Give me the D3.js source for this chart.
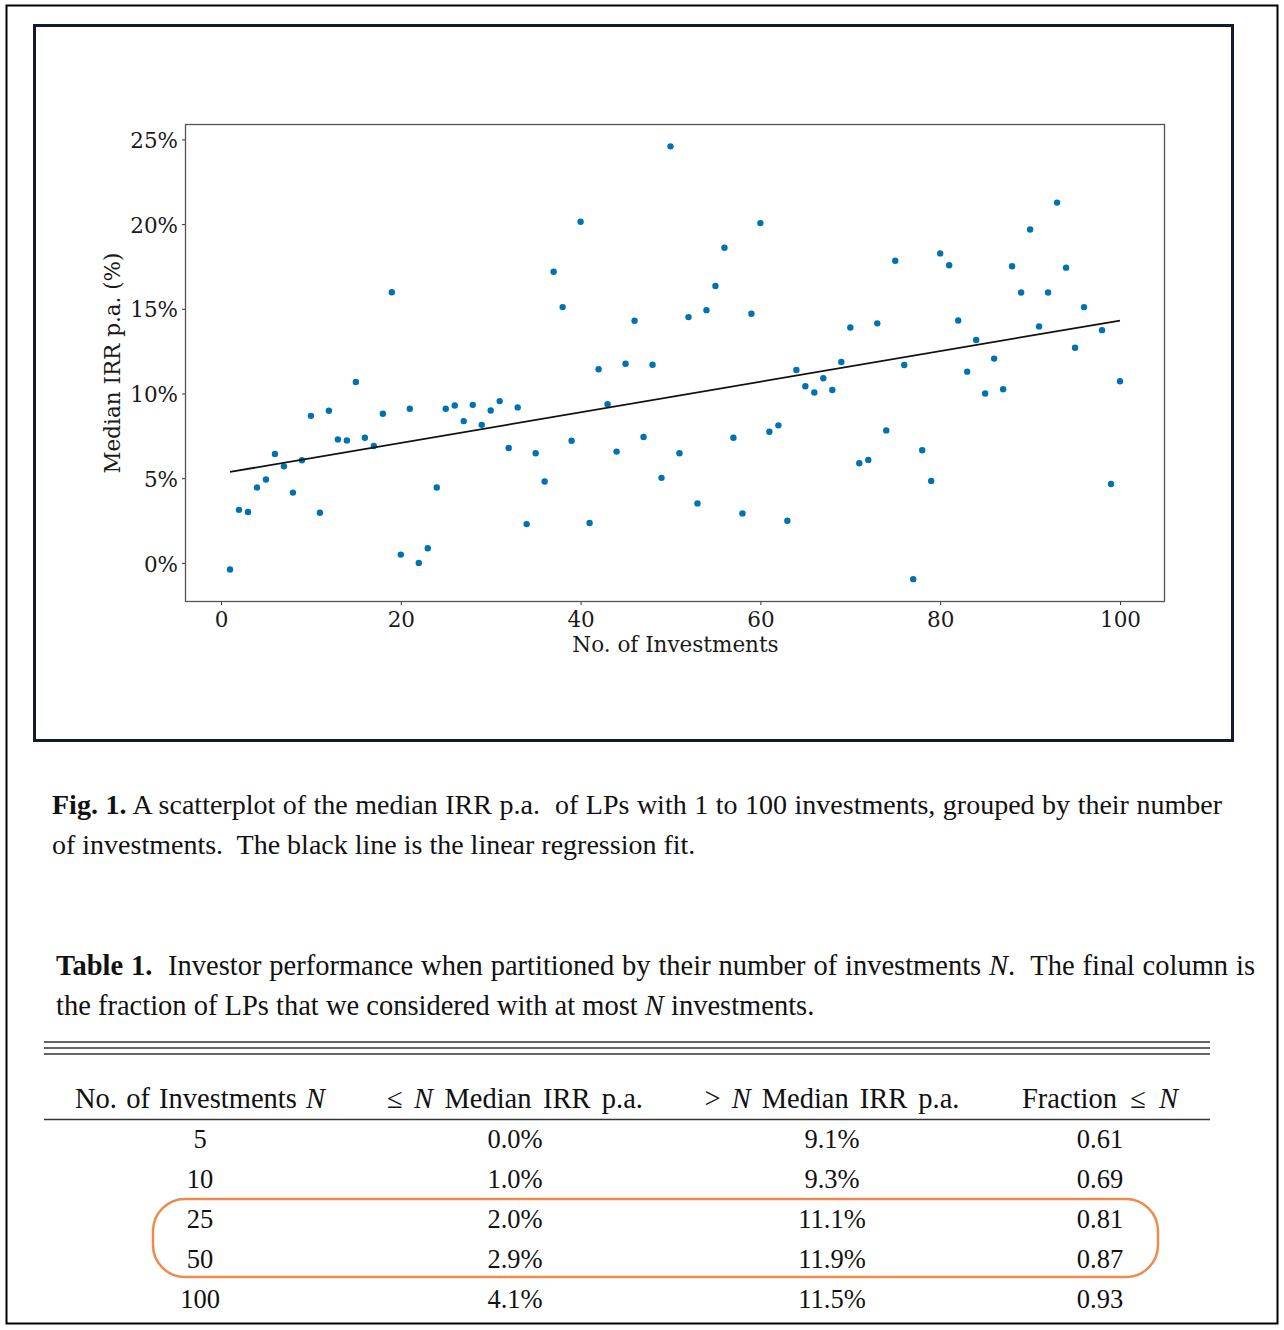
<!DOCTYPE html>
<html>
<head>
<meta charset="utf-8">
<script src="https://cdn.jsdelivr.net/npm/d3@7"></script>
<style>
  html, body { margin: 0; padding: 0; background: #fff; }
  svg text { white-space: pre; }
</style>
</head>
<body>
<svg id="chart" width="1284" height="1330"></svg>
<script>
// ---------------- DATA ----------------
const investments = [
  1,2,3,4,5,6,7,8,9,10,11,12,13,14,15,16,17,18,19,20,
  21,22,23,24,25,26,27,28,29,30,31,32,33,34,35,36,37,38,39,40,
  41,42,43,44,45,46,47,48,49,50,51,52,53,54,55,56,57,58,59,60,
  61,62,63,64,65,66,67,68,69,70,71,72,73,74,75,76,77,78,79,80,
  81,82,83,84,85,86,87,88,89,90,91,92,93,94,95,96,98,99,100
];
const medianIRR = [
  -0.39,3.13,3.00,4.45,4.92,6.43,5.70,4.15,6.06,8.68,
  2.96,8.98,7.29,7.23,10.68,7.39,6.90,8.80,15.98,0.49,
  9.10,0.00,0.86,4.45,9.10,9.29,8.37,9.33,8.15,9.00,
  9.55,6.78,9.18,2.29,6.47,4.80,17.19,15.10,7.21,20.14,
  2.35,11.43,9.37,6.57,11.76,14.29,7.43,11.70,5.02,24.59,
  6.47,14.51,3.51,14.92,16.35,18.61,7.39,2.92,14.71,20.06,
  7.74,8.12,2.49,11.39,10.43,10.06,10.90,10.21,11.86,13.90,
  5.88,6.08,14.14,7.82,17.84,11.68,-0.96,6.65,4.84,18.27,
  17.57,14.31,11.29,13.16,10.00,12.06,10.25,17.51,15.96,19.68,
  13.96,15.96,21.27,17.43,12.70,15.10,13.74,4.66,10.72
];
const xTicks = [0, 20, 40, 60, 80, 100];
const yTicks = [0, 5, 10, 15, 20, 25];

const tableHeader = ["No. of Investments |N|", "≤ |N| Median IRR p.a.", "> |N| Median IRR p.a.", "Fraction ≤ |N|"];
const tableN        = ["5", "10", "25", "50", "100"];
const tableLeIRR    = ["0.0%", "1.0%", "2.0%", "2.9%", "4.1%"];
const tableGtIRR    = ["9.1%", "9.3%", "11.1%", "11.9%", "11.5%"];
const tableFraction = ["0.61", "0.69", "0.81", "0.87", "0.93"];
const highlightRows = [2, 3];

const figCaption = [
  [{b:"Fig. 1."}, {t:" A scatterplot of the median IRR p.a.  of LPs with 1 to 100 investments, grouped by their number"}],
  [{t:"of investments.  The black line is the linear regression fit."}]
];
const tableCaption = [
  [{b:"Table 1."}, {t:"  Investor performance when partitioned by their number of investments "}, {i:"N"}, {t:".  The final column is"}],
  [{t:"the fraction of LPs that we considered with at most "}, {i:"N"}, {t:" investments."}]
];

// ---------------- DRAW ----------------
const svg = d3.select("#chart");

// outer frame and inner figure frame
svg.append("rect").attr("x", 6.5).attr("y", 5.5).attr("width", 1271).attr("height", 1318)
  .attr("fill", "none").attr("stroke", "#000").attr("stroke-width", 2);
svg.append("rect").attr("x", 34.5).attr("y", 25.5).attr("width", 1198).attr("height", 715)
  .attr("fill", "none").attr("stroke", "#141a2e").attr("stroke-width", 3);

const plot = { left: 185.5, top: 124.5, right: 1164.5, bottom: 601.5 };

const x = d3.scaleLinear().domain([-3.95, 104.95]).range([plot.left, plot.right]);
const y = d3.scaleLinear().domain([-2.28, 25.88]).range([plot.bottom, plot.top]);

const tickFont = "'DejaVu Serif', serif";
const g = svg.append("g");

// axes
const xAxis = d3.axisBottom(x).tickValues(xTicks).tickSize(3.5).tickPadding(7).tickFormat(d3.format("d"));
const yAxis = d3.axisLeft(y).tickValues(yTicks).tickSize(3.5).tickPadding(4).tickFormat(d => d + "%");

const gx = g.append("g").attr("transform", `translate(0,${plot.bottom})`).call(xAxis);
const gy = g.append("g").attr("transform", `translate(${plot.left},0)`).call(yAxis);
[gx, gy].forEach(a => {
  a.select(".domain").remove();
  a.selectAll(".tick line").attr("stroke", "#333").attr("stroke-width", 1);
  a.selectAll(".tick text").attr("font-family", tickFont).attr("font-size", 21.5).attr("fill", "#1a1a1a");
});
gy.selectAll(".tick text").attr("dy", "0.38em");

// frame of the axes
g.append("rect").attr("x", plot.left).attr("y", plot.top)
  .attr("width", plot.right - plot.left).attr("height", plot.bottom - plot.top)
  .attr("fill", "none").attr("stroke", "#555").attr("stroke-width", 1.3);

// points
const pts = investments.map((n, i) => ({ n, v: medianIRR[i] }));
g.append("g").selectAll("circle").data(pts).join("circle")
  .attr("cx", d => x(d.n)).attr("cy", d => y(d.v)).attr("r", 3.2)
  .attr("fill", "#0072B2");

// linear regression fit computed from data
const mx = d3.mean(pts, d => d.n), my = d3.mean(pts, d => d.v);
const slope = d3.sum(pts, d => (d.n - mx) * (d.v - my)) / d3.sum(pts, d => (d.n - mx) ** 2);
const intercept = my - slope * mx;
const fitX = d3.extent(investments);
g.append("path")
  .datum(fitX.map(n => [n, intercept + slope * n]))
  .attr("d", d3.line().x(d => x(d[0])).y(d => y(d[1])))
  .attr("fill", "none").attr("stroke", "#111").attr("stroke-width", 1.8);

// axis labels
g.append("text").attr("x", (x(0) + x(100)) / 2 + 5).attr("y", 652)
  .attr("text-anchor", "middle").attr("font-family", tickFont).attr("font-size", 21.5)
  .attr("fill", "#1a1a1a").text("No. of Investments");
g.append("text").attr("transform", `translate(120,${363}) rotate(-90)`)
  .attr("text-anchor", "middle").attr("font-family", tickFont).attr("font-size", 21.5)
  .attr("fill", "#1a1a1a").text("Median IRR p.a. (%)");

// ---------------- CAPTIONS ----------------
const serif = "'Liberation Serif', 'Times New Roman', serif";
function richLine(parent, segs, x0, yb, size, justifyTo) {
  const t = parent.append("text").attr("x", x0).attr("y", yb)
    .attr("font-family", serif).attr("font-size", size).attr("fill", "#111");
  segs.forEach(s => {
    const ts = t.append("tspan");
    if (s.b) ts.attr("font-weight", "bold").text(s.b);
    else if (s.i) ts.attr("font-style", "italic").text(s.i);
    else ts.text(s.t);
  });
  if (justifyTo) justify(t, justifyTo);
  return t;
}
// stretch inter-word spaces so the line fills the given width (like justified type)
function justify(t, width) {
  const natural = t.node().getComputedTextLength();
  const spaces = (t.text().match(/ /g) || []).length;
  if (spaces > 0 && natural < width) t.attr("word-spacing", (width - natural) / spaces);
}
figCaption.forEach((line, i) => richLine(svg, line, 52, 814 + i * 40, 28, i === 0 ? 1170 : null));
tableCaption.forEach((line, i) => richLine(svg, line, 56, 975 + i * 40, 28.5, i === 0 ? 1199 : null));

// ---------------- TABLE ----------------
const colCenters = [200, 515, 832, 1100];
const headerWidths = [250, 256, 255, 156];
const tableLeft = 44, tableRight = 1210;
[1042, 1048, 1054].forEach(yy => svg.append("line")
  .attr("x1", tableLeft).attr("x2", tableRight).attr("y1", yy).attr("y2", yy)
  .attr("stroke", "#333").attr("stroke-width", 1.3));
svg.append("line").attr("x1", tableLeft).attr("x2", tableRight).attr("y1", 1119.5).attr("y2", 1119.5)
  .attr("stroke", "#333").attr("stroke-width", 1.3);

const tsize = 26.5;
tableHeader.forEach((h, ci) => {
  const t = svg.append("text").attr("x", colCenters[ci]).attr("y", 1108)
    .attr("text-anchor", "middle").attr("font-family", serif).attr("font-size", 28.5).attr("fill", "#111");
  h.split("|").forEach((part, k) => {
    const ts = t.append("tspan").text(part);
    if (k % 2 === 1) ts.attr("font-style", "italic");
  });
  justify(t, headerWidths[ci]);
});

const rowY = d3.scaleLinear().domain([0, 1]).range([1148, 1188]);
const cols = [tableN, tableLeIRR, tableGtIRR, tableFraction];
cols.forEach((col, ci) => {
  svg.append("g").selectAll("text").data(col).join("text")
    .attr("x", colCenters[ci]).attr("y", (d, ri) => rowY(ri))
    .attr("text-anchor", "middle").attr("font-family", serif).attr("font-size", tsize)
    .attr("fill", "#111").text(d => d);
});

// highlight box around rows
const hy0 = rowY(highlightRows[0]) - 29, hy1 = rowY(highlightRows[highlightRows.length - 1]) + 9;
svg.append("rect").attr("x", 153).attr("y", hy0).attr("width", 1158 - 153).attr("height", hy1 - hy0)
  .attr("rx", 32).attr("ry", 32)
  .attr("fill", "none").attr("stroke", "#EE8A4E").attr("stroke-width", 2.5);
</script>
</body>
</html>
